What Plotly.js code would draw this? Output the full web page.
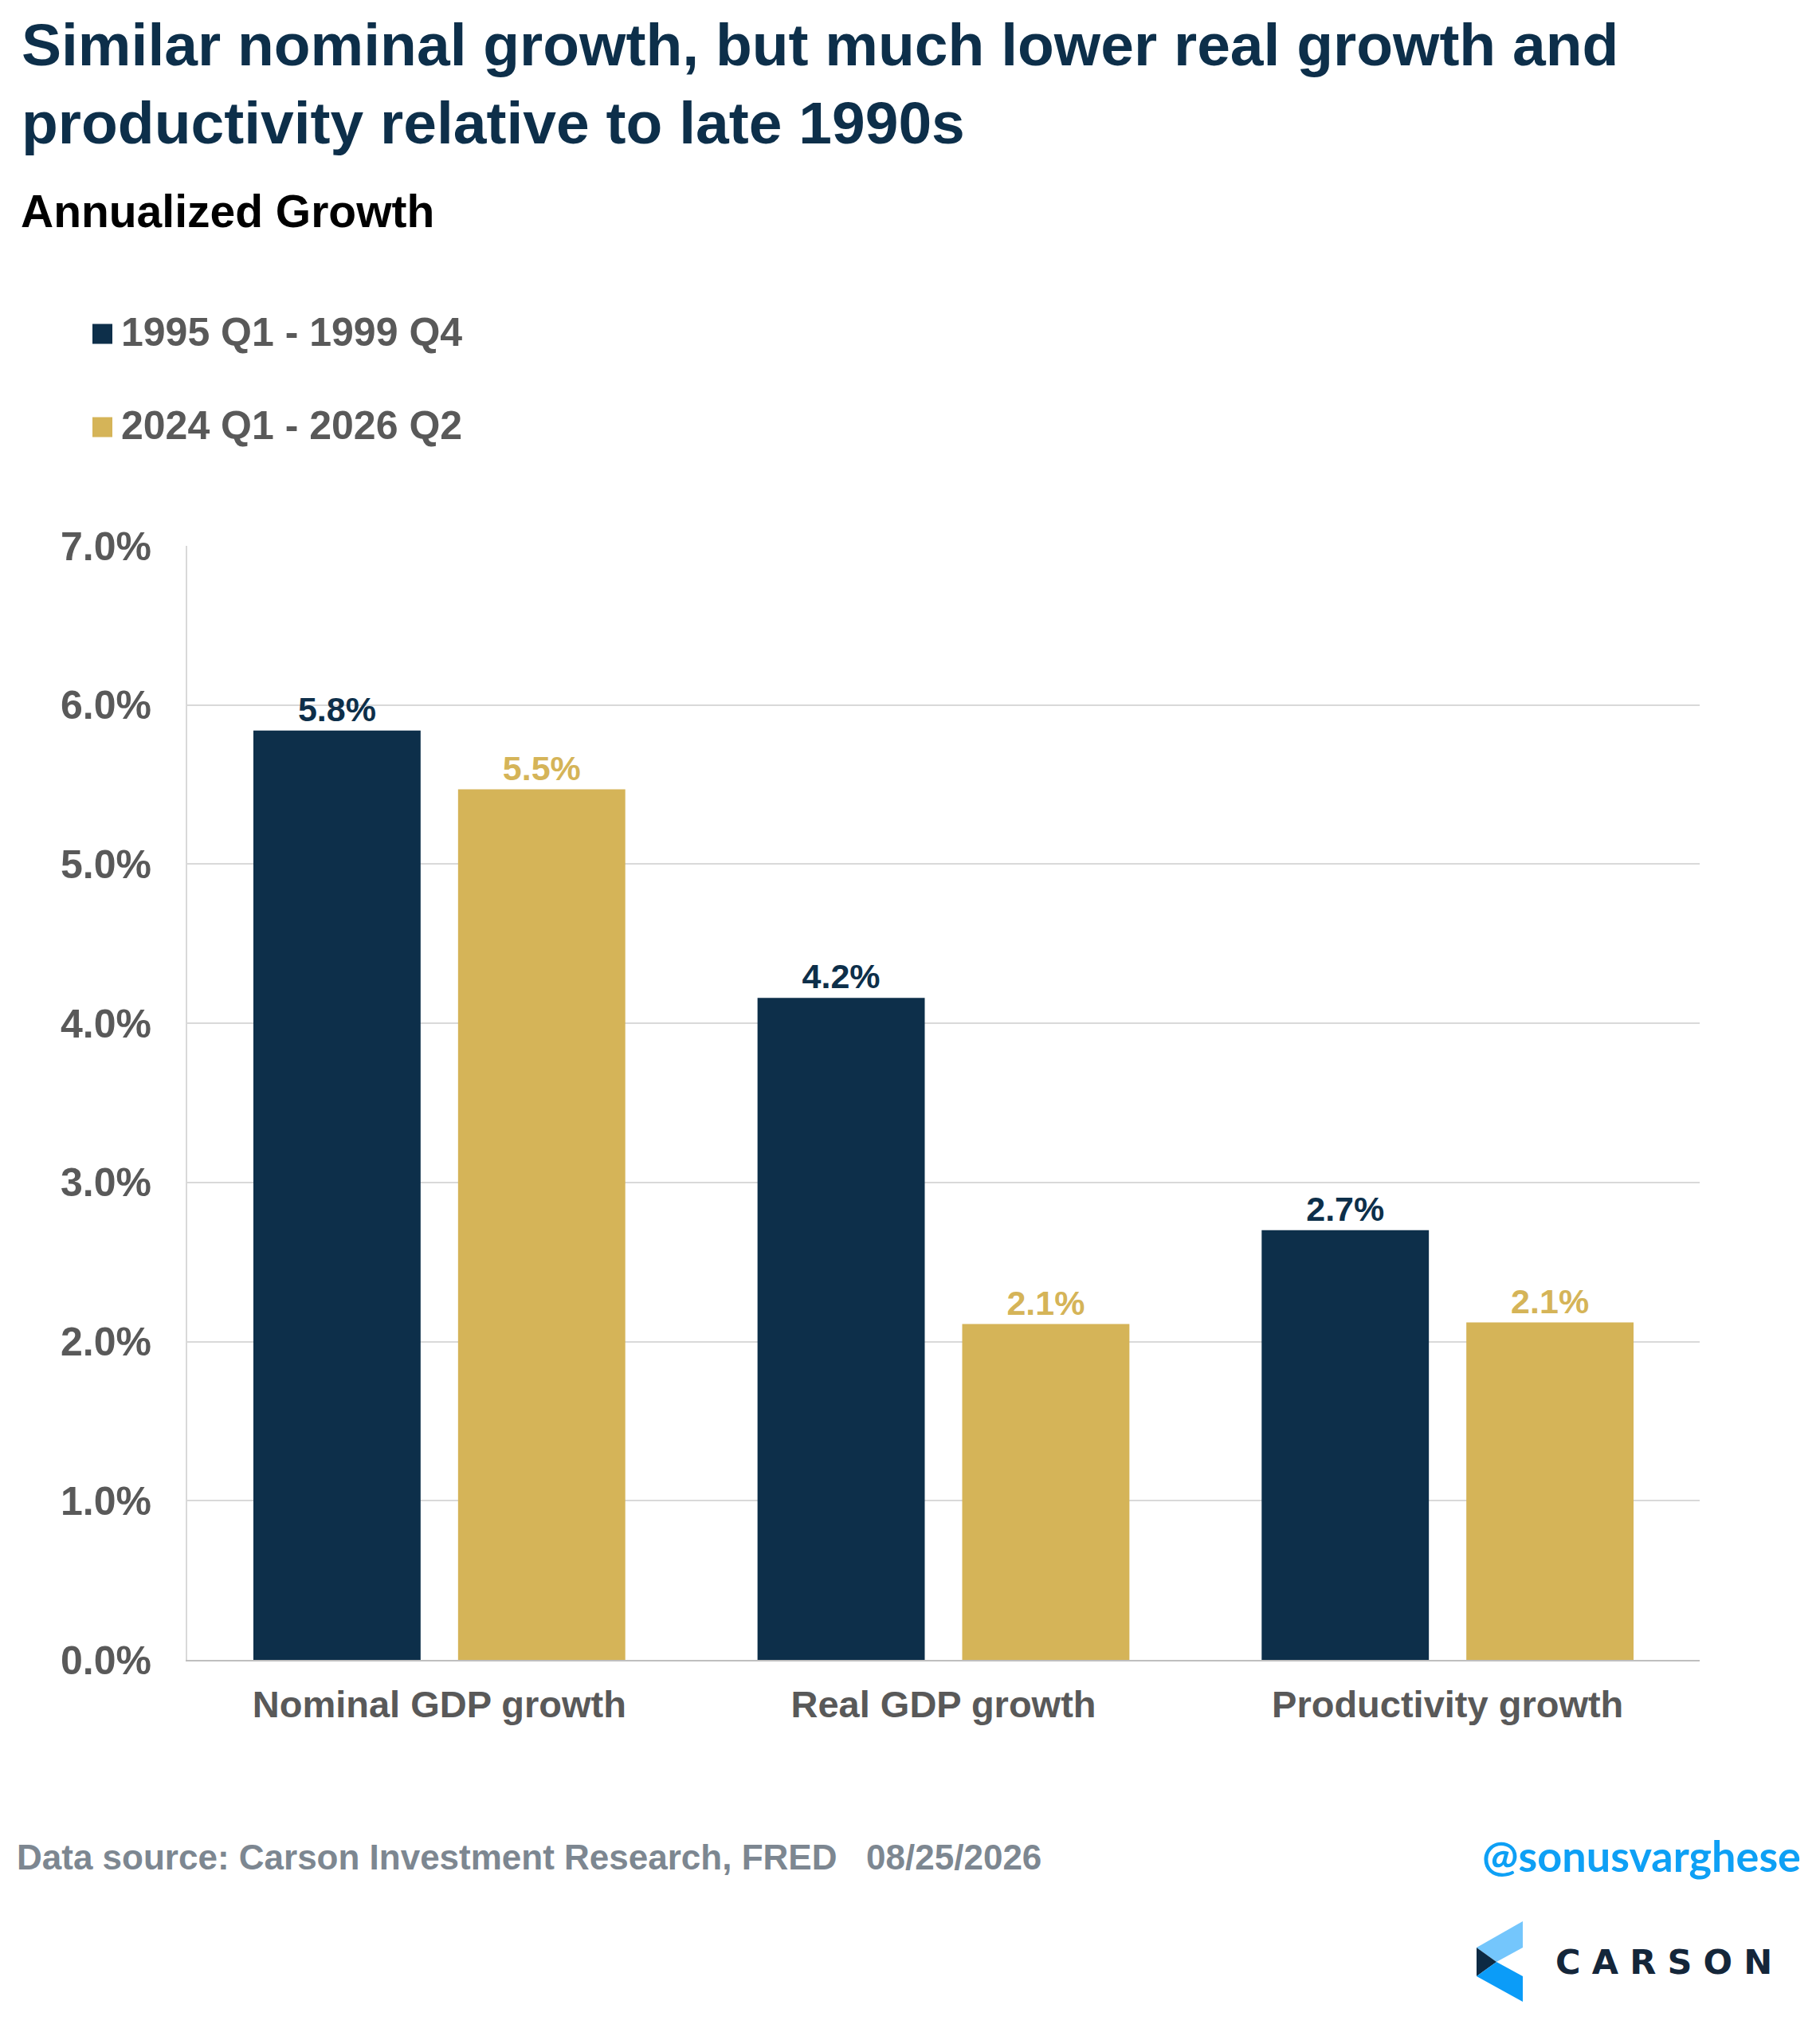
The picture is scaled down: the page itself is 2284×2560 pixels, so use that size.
<!DOCTYPE html>
<html>
<head>
<meta charset="utf-8">
<script src="https://cdn.plot.ly/plotly-3.0.1.min.js"></script>
<style>html,body{margin:0;padding:0;background:#fff;}#chart{width:2284px;height:2560px;}</style>
</head>
<body>
<div id="chart"></div>
<script>
// ---- data ----
const categories = ['Nominal GDP growth', 'Real GDP growth', 'Productivity growth'];
const seriesNames = ['1995 Q1 - 1999 Q4', '2024 Q1 - 2026 Q2'];
const values1990s = [5.84, 4.16, 2.70];
const values2020s = [5.47, 2.11, 2.12];
const yTickValues = [0, 1, 2, 3, 4, 5, 6, 7];
const yTickLabels = ['0.0%', '1.0%', '2.0%', '3.0%', '4.0%', '5.0%', '6.0%', '7.0%'];
const titleText = 'Similar nominal growth, but much lower real growth and<br>productivity relative to late 1990s';
const subtitleText = 'Annualized Growth';
const sourceText = 'Data source: Carson Investment Research, FRED\u00a0\u00a0\u00a008/25/2026';
const handleText = '@sonusvarghese';
const logoText = 'C\u2004A\u2004R\u2004S\u2004O\u2004N';

// ---- styling ----
const W = 2284, H = 2560;
const M = {l: 235, r: 151, t: 685, b: 477};
const PW = W - M.l - M.r, PH = H - M.t - M.b;
const NAVY = '#0d2f4a', GOLD = '#d5b458', GREY = '#595959';
const FONT = 'Liberation Sans, Arial, Helvetica, sans-serif';
const px = x => (x - M.l) / PW;
const py = y => (H - M.b - y) / PH;

const traces = [
  {type: 'bar', name: seriesNames[0], x: categories, y: values1990s,
   marker: {color: NAVY}, texttemplate: '%{y:.1f}%', textposition: 'outside',
   textfont: {family: FONT, size: 43, color: NAVY, weight: 700}, cliponaxis: false, hoverinfo: 'skip'},
  {type: 'bar', name: seriesNames[1], x: categories, y: values2020s,
   marker: {color: GOLD}, texttemplate: '%{y:.1f}%', textposition: 'outside',
   textfont: {family: FONT, size: 43, color: GOLD, weight: 700}, cliponaxis: false, hoverinfo: 'skip'}
];

const legendColors = [NAVY, GOLD];
const legendY = [419, 536];
const shapes = [];
const annotations = [];
seriesNames.forEach((n, i) => {
  shapes.push({type: 'rect', xref: 'paper', yref: 'paper',
    x0: px(116), x1: px(141), y0: py(legendY[i] - 12.5), y1: py(legendY[i] + 12.5),
    fillcolor: legendColors[i], line: {width: 0}});
  annotations.push({xref: 'paper', yref: 'paper', x: px(150), y: py(legendY[i] - 2),
    xanchor: 'left', yanchor: 'middle', showarrow: false, text: n,
    font: {family: FONT, size: 50, color: GREY, weight: 700}});
});

annotations.push({xref: 'paper', yref: 'paper', x: px(24), y: py(265), xanchor: 'left', yanchor: 'middle',
  showarrow: false, text: subtitleText, font: {family: FONT, size: 57, color: '#000000', weight: 700}});
annotations.push({xref: 'paper', yref: 'paper', x: px(19), y: py(2330), xanchor: 'left', yanchor: 'middle',
  showarrow: false, text: sourceText, font: {family: FONT, size: 44, color: '#7d8791', weight: 700}});
annotations.push({xref: 'paper', yref: 'paper', x: px(2262), y: py(2328), xanchor: 'right', yanchor: 'middle',
  showarrow: false, text: handleText, font: {family: 'Lato, Open Sans, sans-serif', size: 54, color: '#0ea0f5', weight: 700}});
annotations.push({xref: 'paper', yref: 'paper', x: px(1950), y: py(2462), xanchor: 'left', yanchor: 'middle',
  showarrow: false, text: logoText, font: {family: 'DejaVu Sans, sans-serif', size: 43, color: '#14263a', weight: 600}});

// logo shapes
const P = (pts) => 'M' + pts.map(p => px(p[0]).toFixed(5) + ',' + py(p[1]).toFixed(5)).join('L') + 'Z';
shapes.push({type: 'path', xref: 'paper', yref: 'paper', line: {width: 0}, fillcolor: '#74c6fc',
  path: P([[1853, 2444], [1911, 2411], [1911, 2444], [1878, 2462]])});
shapes.push({type: 'path', xref: 'paper', yref: 'paper', line: {width: 0}, fillcolor: '#0d2a44',
  path: P([[1853, 2444], [1878, 2462], [1853, 2480]])});
shapes.push({type: 'path', xref: 'paper', yref: 'paper', line: {width: 0}, fillcolor: '#0b9cf8',
  path: P([[1853, 2480], [1878, 2462], [1911, 2480], [1911, 2512]])});

const layout = {
  width: W, height: H,
  margin: M,
  paper_bgcolor: '#ffffff', plot_bgcolor: '#ffffff',
  showlegend: false,
  barmode: 'group', bargap: 0.188, bargroupgap: 0.183,
  title: {text: titleText, x: 27 / W, xref: 'container', xanchor: 'left',
    y: 1 - 82 / H, yref: 'container', yanchor: 'top',
    font: {family: FONT, size: 75, color: NAVY, weight: 700}},
  xaxis: {type: 'category', showgrid: false, showline: true, linecolor: '#bfbfbf', linewidth: 2,
    ticks: '', ticklabelstandoff: 14,
    tickfont: {family: FONT, size: 47, color: GREY, weight: 700}, fixedrange: true},
  yaxis: {range: [0, 7], tickvals: yTickValues, ticktext: yTickLabels, showgrid: true,
    gridcolor: '#d9d9d9', gridwidth: 2, zeroline: false, showline: true, linecolor: '#d9d9d9', linewidth: 2,
    ticks: '', ticklabelstandoff: 33,
    tickfont: {family: FONT, size: 50, color: GREY, weight: 700}, fixedrange: true},
  shapes: shapes,
  annotations: annotations
};

Plotly.newPlot('chart', traces, layout, {displayModeBar: false, staticPlot: true});
</script>
</body>
</html>
